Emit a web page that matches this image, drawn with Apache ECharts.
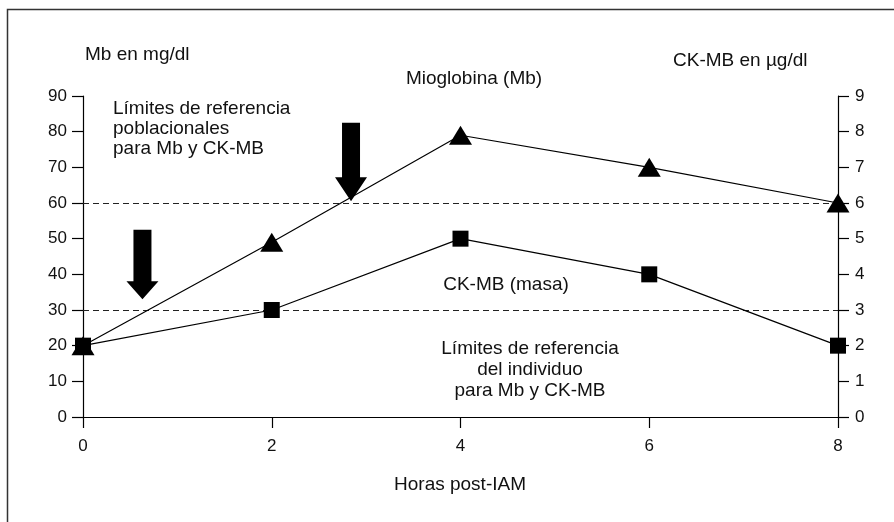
<!DOCTYPE html>
<html>
<head>
<meta charset="utf-8">
<script src="https://cdn.jsdelivr.net/npm/echarts@6/dist/echarts.min.js"></script>
<style>
html,body{margin:0;padding:0;background:#fff;}
#chart{width:894px;height:522px;}
</style>
</head>
<body>
<div id="chart"></div>
<script>
// Data
var hours = [0, 2, 4, 6, 8];
var mbValues = [20, 49, 79, 70, 60];        // Mioglobina, mg/dl (left axis)
var ckmbValues = [2, 3, 5, 4, 2];           // CK-MB masa, µg/dl (right axis)
var refLimitsMb = [60, 30];                 // dashed reference lines (left axis)
var arrowMarks = [[0.63, 52.5, 33], [2.84, 82.5, 60.5]]; // [hour, top, tip]
var leftTicks = {min: 0, max: 90, interval: 10};
var rightTicks = {min: 0, max: 9, interval: 1};
var xTicks = {min: 0, max: 8, interval: 2};

var FONT = "'Liberation Sans', Arial, sans-serif";
var chart = echarts.init(document.getElementById('chart'), null, {renderer: 'canvas'});

function pairs(xs, ys) { return xs.map(function (x, i) { return [x, ys[i]]; }); }

var axisCommon = {
  axisLine: {show: true, onZero: false, lineStyle: {color: '#000', width: 1.2}},
  axisTick: {show: true, inside: false, length: 11, lineStyle: {color: '#000', width: 1.2}},
  splitLine: {show: false},
  axisLabel: {color: '#111', fontSize: 17, fontFamily: FONT}
};

var option = {
  animation: false,
  backgroundColor: '#fff',
  grid: {left: 83, right: 56, top: 96, bottom: 105, containLabel: false},
  xAxis: Object.assign({}, axisCommon, {
    type: 'value', min: xTicks.min, max: xTicks.max, interval: xTicks.interval,
    axisLabel: Object.assign({}, axisCommon.axisLabel, {margin: 21})
  }),
  yAxis: [
    Object.assign({}, axisCommon, {
      type: 'value', position: 'left', min: leftTicks.min, max: leftTicks.max, interval: leftTicks.interval,
      axisLabel: Object.assign({}, axisCommon.axisLabel, {margin: 16})
    }),
    Object.assign({}, axisCommon, {
      type: 'value', position: 'right', min: rightTicks.min, max: rightTicks.max, interval: rightTicks.interval,
      axisLabel: Object.assign({}, axisCommon.axisLabel, {margin: 17})
    })
  ],
  series: [
    {
      name: 'Mioglobina (Mb)', type: 'line', yAxisIndex: 0,
      data: pairs(hours, mbValues),
      symbol: 'triangle', symbolSize: [23, 19],
      itemStyle: {color: '#000'},
      lineStyle: {color: '#000', width: 1.2},
      z: 5,
      markLine: {
        silent: true, symbol: ['none', 'none'], label: {show: false},
        lineStyle: {color: '#222', width: 1.2, type: [6, 4]},
        data: refLimitsMb.map(function (v) { return {yAxis: v}; })
      }
    },
    {
      name: 'CK-MB (masa)', type: 'line', yAxisIndex: 1,
      data: pairs(hours, ckmbValues),
      symbol: 'rect', symbolSize: 16,
      itemStyle: {color: '#000'},
      lineStyle: {color: '#000', width: 1.2},
      z: 6
    },
    {
      type: 'custom', yAxisIndex: 0, silent: true, z: 7,
      data: arrowMarks,
      renderItem: function (params, api) {
        var top = api.coord([api.value(0), api.value(1)]);
        var tip = api.coord([api.value(0), api.value(2)]);
        var headLen = params.dataIndex === 0 ? 18 : 24;
        var sw = 9, hw = 16, x = top[0];
        var hy = tip[1] - headLen;
        return {
          type: 'polygon',
          shape: {points: [[x - sw, top[1]], [x + sw, top[1]], [x + sw, hy], [x + hw, hy], [x, tip[1]], [x - hw, hy], [x - sw, hy]]},
          style: {fill: '#000'}
        };
      }
    }
  ],
  graphic: [
    {type: 'rect', shape: {x: 7.5, y: 9.5, width: 900, height: 540}, style: {fill: 'none', stroke: '#333', lineWidth: 1.5}, silent: true},
    {type: 'text', left: 85, top: 45, style: {text: 'Mb en mg/dl', font: '19px ' + FONT, fill: '#111'}},
    {type: 'text', left: 673, top: 51, style: {text: 'CK-MB en µg/dl', font: '19px ' + FONT, fill: '#111'}},
    {type: 'text', x: 474, y: 79, style: {text: 'Mioglobina (Mb)', font: '19px ' + FONT, fill: '#111', align: 'center', verticalAlign: 'middle'}},
    {type: 'text', x: 113, y: 99, style: {text: 'Límites de referencia\npoblacionales\npara Mb y CK-MB', font: '19px ' + FONT, lineHeight: 20, fill: '#111', align: 'left', verticalAlign: 'top'}},
    {type: 'text', x: 506, y: 285, style: {text: 'CK-MB (masa)', font: '19px ' + FONT, fill: '#111', align: 'center', verticalAlign: 'middle'}},
    {type: 'text', x: 530, y: 338, style: {text: 'Límites de referencia\ndel individuo\npara Mb y CK-MB', font: '19px ' + FONT, lineHeight: 21, fill: '#111', align: 'center', verticalAlign: 'top'}},
    {type: 'text', x: 460, y: 485, style: {text: 'Horas post-IAM', font: '19px ' + FONT, fill: '#111', align: 'center', verticalAlign: 'middle'}}
  ]
};
chart.setOption(option);
</script>
</body>
</html>
